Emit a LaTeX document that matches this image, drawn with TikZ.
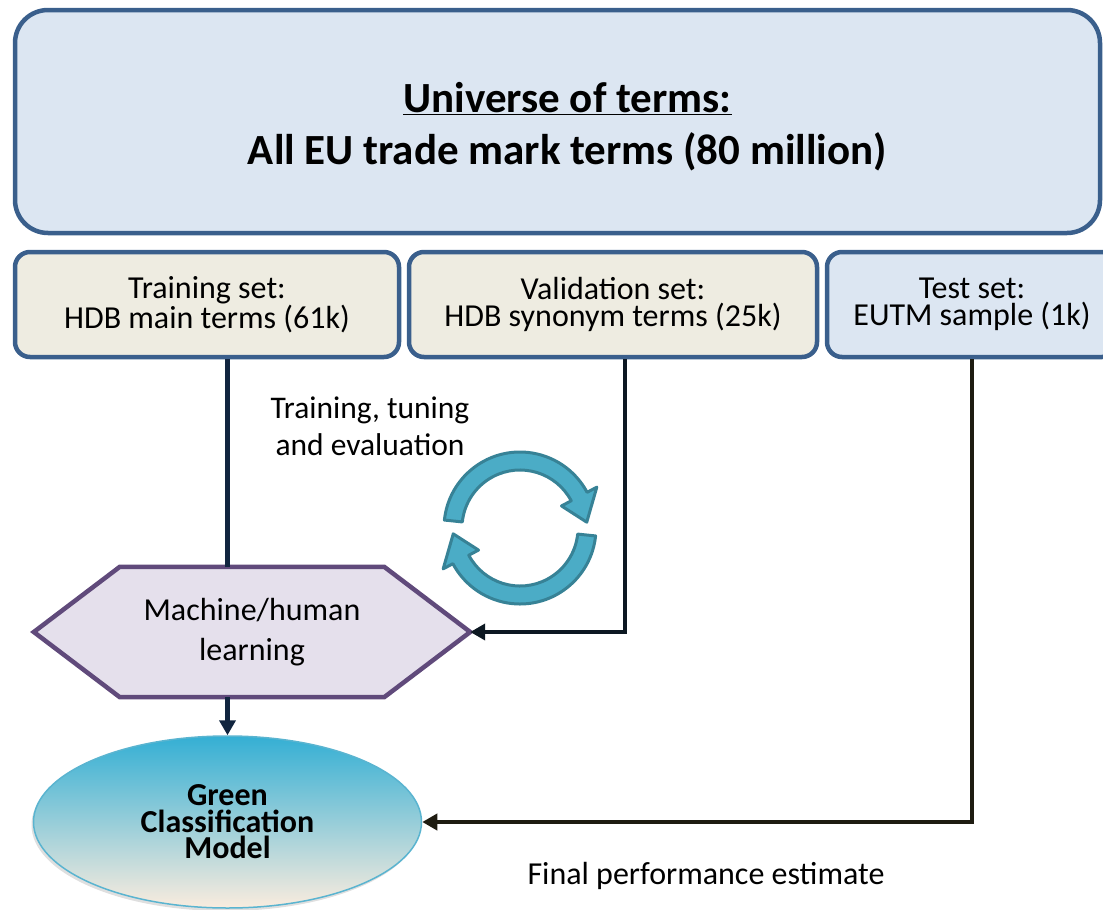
\documentclass[tikz,border=0pt]{standalone}
\usepackage{fontspec}
\setmainfont{Carlito}
\usetikzlibrary{arrows.meta,shapes,positioning,calc,shadows}
\definecolor{boxline}{RGB}{58,95,140}
\definecolor{univfill}{RGB}{220,230,242}
\definecolor{setfill}{RGB}{238,236,225}
\definecolor{hexfill}{RGB}{229,224,236}
\definecolor{hexline}{RGB}{96,74,123}
\definecolor{navyline}{RGB}{17,37,63}
\definecolor{blackline}{RGB}{13,24,34}
\definecolor{brownline}{RGB}{30,28,17}
\definecolor{cycfill}{RGB}{75,172,198}
\definecolor{cycline}{RGB}{55,130,150}
\definecolor{modeltop}{RGB}{52,175,212}
\definecolor{modelmid}{RGB}{130,197,212}
\definecolor{modelbot}{RGB}{250,236,222}
\definecolor{modelline}{RGB}{90,180,208}
\begin{document}
\begin{tikzpicture}
[x=1pt,y=1pt,node distance=5.5pt,
 smallfont/.style={font=\fontsize{32}{26.5}\selectfont},
 setbox/.style={draw=boxline,line width=4.5pt,rounded corners=15pt,minimum height=105pt,align=center,smallfont},
 conn/.style={line width=4.5pt,-{Triangle[length=15pt,width=16pt]}},
 cyclearrow/.style={fill=cycfill,draw=cycline,line width=3pt,line join=round}]
\useasboundingbox (0,0) rectangle (1103,-910);
\clip (0,0) rectangle (1103,-910);
%% universe
\node[draw=boxline,fill=univfill,line width=4.5pt,rounded corners=33pt,minimum width=1085pt,minimum height=223pt,align=center,font=\bfseries\fontsize{43}{52}\selectfont] (univ) at (557.5,-121.5) {\mbox{}\\[-12pt]\hspace*{20pt}\underline{Universe of terms:}\\\hspace*{20pt}All EU trade mark terms (80 million)};
%% data sets
\node[setbox,fill=setfill,minimum width=384pt] (train) at (207,-304.5) {Training set:\\HDB main terms (61k)};
\node[setbox,fill=setfill,minimum width=408pt,right=of train] (val) {Validation set:\\HDB synonym terms (25k)};
\node[setbox,fill=univfill,minimum width=290pt,right=of val] (test) {Test set:\\EUTM sample (1k)};
%% learning
\node[minimum width=436pt,minimum height=130pt] (learn) at (252,-632) {};
\draw[draw=hexline,fill=hexfill,line width=4.5pt,line join=miter] (learn.west) -- ([xshift=86pt]learn.north west) -- ([xshift=-86pt]learn.north east) -- (learn.east) -- ([xshift=-86pt]learn.south east) -- ([xshift=86pt]learn.south west) -- cycle;
\node at (learn) [align=center,font=\fontsize{32}{40}\selectfont] {Machine/human\\learning};
%% model
\node[ellipse,draw=modelline,line width=1.5pt,top color=modeltop,middle color=modelmid,bottom color=modelbot,minimum width=388pt,minimum height=172pt,align=center,font=\bfseries\fontsize{32}{26.5}\selectfont,drop shadow={shadow xshift=-2pt,shadow yshift=-3pt,opacity=0.25}] (model) at (227.5,-822) {Green\\Classification\\Model};
%% cycle
\coordinate (cyc) at (520,-528);
\foreach \rot in {0,180}{
\begin{scope}[shift={(cyc)},rotate=\rot]
\filldraw[cyclearrow] (174:76) arc[start angle=174,end angle=28,radius=76] -- (28:87) -- (5:67) -- (28:47) -- (28:58) arc[start angle=28,end angle=174,radius=58] -- cycle;
\end{scope}
}
%% labels
\node[align=center,font=\fontsize{31.5}{37}\selectfont] (tune) at (370,-426) {Training, tuning\\and evaluation};
\node[smallfont] (final) at (706,-876) {Final performance estimate};
%% edges
\draw[navyline,line width=4.5pt] (train.south -| model.north) -- (learn.north -| model.north);
\draw[conn,navyline] (learn.south -| model.north) -- (model.north);
\draw[conn,blackline] ([xshift=12pt]val.south) |- (learn.east);
\draw[conn,brownline] (test.south) |- (model.east);
\end{tikzpicture}
\end{document}
